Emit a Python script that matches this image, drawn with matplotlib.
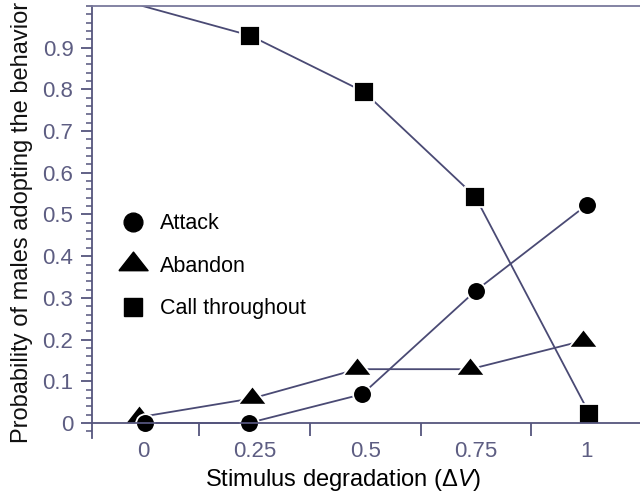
import matplotlib
matplotlib.use("Agg")
import matplotlib.pyplot as plt
from matplotlib.lines import Line2D
from matplotlib.ticker import MultipleLocator, FixedLocator, FuncFormatter

plt.rcParams['font.family'] = ['Liberation Sans', 'DejaVu Sans']
plt.rcParams['mathtext.fontset'] = 'custom'
plt.rcParams['mathtext.it'] = 'Liberation Sans:italic'
plt.rcParams['mathtext.rm'] = 'Liberation Sans'

# 数据（从图上读取，x 位置带有原图中的轻微错开）
attack_x = [0.002, 0.237, 0.493, 0.749, 1.0]
attack_y = [0.0, 0.0, 0.069, 0.317, 0.523]

abandon_x = [-0.01, 0.245, 0.482, 0.737, 0.991]
abandon_y = [0.014, 0.059, 0.129, 0.129, 0.197]

call_x = [-0.003, 0.240, 0.497, 0.748, 1.006]
call_y = [1.0, 0.929, 0.794, 0.543, 0.022]

x_ticks = [0, 0.25, 0.5, 0.75, 1]
x_tick_labels = ['0', '0.25', '0.5', '0.75', '1']
y_ticks = [0, 0.1, 0.2, 0.3, 0.4, 0.5, 0.6, 0.7, 0.8, 0.9]

series_labels = ['Attack', 'Abandon', 'Call throughout']

line_c = '#4a4a74'
axis_c = '#55557d'
tick_c = '#5d5d82'

# 宽三角形标记（重心在原点）
tri = [(-1, -0.425), (1, -0.425), (0, 0.85), (-1, -0.425)]

fig = plt.figure(figsize=(6.4, 4.95), dpi=100)
ax = fig.add_axes([0.143, 0.116, 0.857, 0.872])

mk = dict(color=line_c, lw=1.3, markerfacecolor='black',
          markeredgecolor='white', markeredgewidth=1.3)
ax.plot(call_x, call_y, marker='s', ms=14, markevery=[1, 2, 3, 4], **mk)
ax.plot(abandon_x, abandon_y, marker=tri, ms=21, **mk)
ax.plot(attack_x, attack_y, marker='o', ms=13.5, **mk)

ax.set_xlim(-0.118, 1.12)
ax.set_ylim(-0.035, 1.0)

# 坐标轴样式
ax.spines['right'].set_visible(False)
ax.spines['top'].set_color('#7a7a9c')
ax.spines['top'].set_linewidth(1.3)
for s in ['left', 'bottom']:
    ax.spines[s].set_color(axis_c)
    ax.spines[s].set_linewidth(1.3)
ax.spines['bottom'].set_position(('data', 0))

ax.xaxis.set_major_locator(FixedLocator(x_ticks))
ax.set_xticklabels(x_tick_labels)
ax.xaxis.set_minor_locator(FixedLocator([0.125, 0.375, 0.625, 0.875]))
ax.tick_params(axis='x', which='major', length=0, pad=13, labelsize=16,
               labelcolor=tick_c)
ax.tick_params(axis='x', which='minor', length=9, width=1.3, color=axis_c,
               direction='out')

ax.yaxis.set_major_locator(FixedLocator(y_ticks))
ax.yaxis.set_major_formatter(FuncFormatter(lambda v, p: '%g' % round(v, 2)))
ax.yaxis.set_minor_locator(MultipleLocator(0.02))
ax.tick_params(axis='y', which='major', length=8, width=1.3, color=axis_c,
               labelsize=16, labelcolor=tick_c, pad=5)
ax.tick_params(axis='y', which='minor', length=4.5, width=1.1, color=axis_c)

ax.set_xlabel(r'Stimulus degradation ($\Delta V$)', fontsize=17)
ax.xaxis.set_label_coords(0.459, -0.068)
ax.set_ylabel('Probability of males adopting the behavior', fontsize=17,
              color='#111111')
ax.yaxis.set_label_coords(-0.107, 0.498)

# 图例
handles = [
    Line2D([], [], ls='none', marker='o', ms=13.5, color='black'),
    Line2D([], [], ls='none', marker=tri, ms=21, color='black'),
    Line2D([], [], ls='none', marker='s', ms=13, color='black'),
]
ax.legend(handles, series_labels, loc='upper left', bbox_to_anchor=(0.022, 0.555),
          frameon=False, fontsize=15.5, labelspacing=1.0, handlelength=1.3,
          handletextpad=0.6, borderaxespad=0.3)

fig.savefig('out.png', dpi=100)
